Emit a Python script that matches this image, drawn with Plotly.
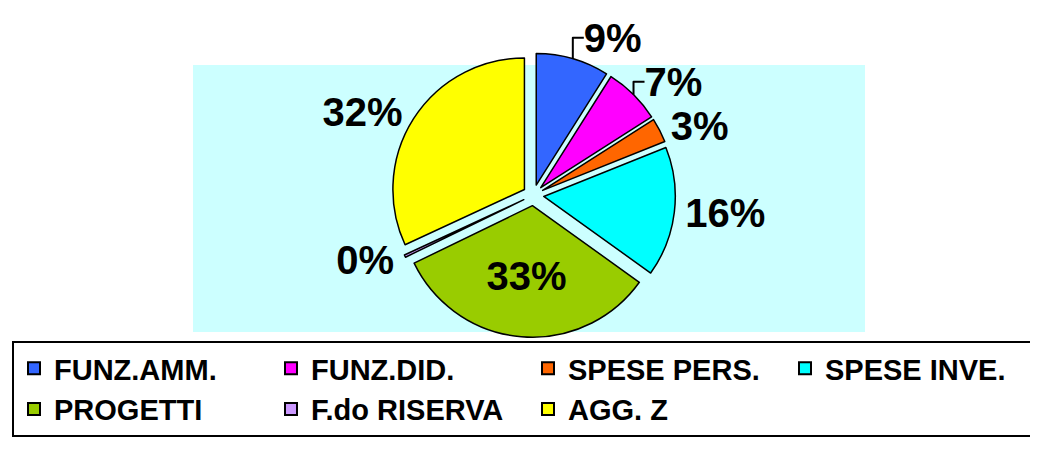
import plotly.graph_objects as go

categories = ["FUNZ.AMM.", "FUNZ.DID.", "SPESE PERS.", "SPESE INVE.", "PROGETTI", "F.do RISERVA", "AGG. Z"]
values = [9, 7, 3, 16, 33, 0.3, 32]
pct_labels = ["9%", "7%", "3%", "16%", "33%", "0%", "32%"]
colors = ["#3366FF", "#FF00FF", "#FF6600", "#00FFFF", "#99CC00", "#CC99FF", "#FFFF00"]

W, H = 1030, 451  # page body adds an 8px offset

fig = go.Figure()
fig.add_trace(go.Pie(
    labels=[f"<b>{c}</b>" for c in categories],
    values=values,
    text=pct_labels,
    texttemplate="<b>%{text}</b>",
    textposition=["outside", "outside", "outside", "outside", "inside", "outside", "outside"],
    textfont=dict(family="Liberation Sans, Arial", size=40, color="black"),
    insidetextorientation="horizontal",
    sort=False,
    direction="clockwise",
    rotation=0,
    pull=[0.08, 0.08, 0.08, 0.08, 0.08, 0.08, 0.08],
    marker=dict(colors=colors, line=dict(color="black", width=1.5)),
    domain=dict(x=[0.12, 0.9], y=[0.27, 0.9]),
    showlegend=True,
    hoverinfo="label+percent",
))

fig.add_shape(type="rect", xref="paper", yref="paper",
              x0=185/W, x1=857/W, y0=1-324/H, y1=1-57/H,
              fillcolor="#CCFFFF", line=dict(width=0), layer="below")

fig.update_layout(
    width=W, height=H,
    margin=dict(l=0, r=0, t=0, b=0, autoexpand=False),
    paper_bgcolor="white",
    plot_bgcolor="white",
    font=dict(family="Liberation Sans, Arial", color="black"),
    uniformtext=dict(minsize=34, mode="show"),
    legend=dict(
        orientation="h",
        x=4/W, y=1-333/H, xanchor="left", yanchor="top",
        bordercolor="black", borderwidth=2,
        font=dict(size=29, color="black"),
        entrywidth=212, entrywidthmode="pixels",
        itemsizing="constant",
        bgcolor="white",
    ),
)

fig.write_html("out.html")
